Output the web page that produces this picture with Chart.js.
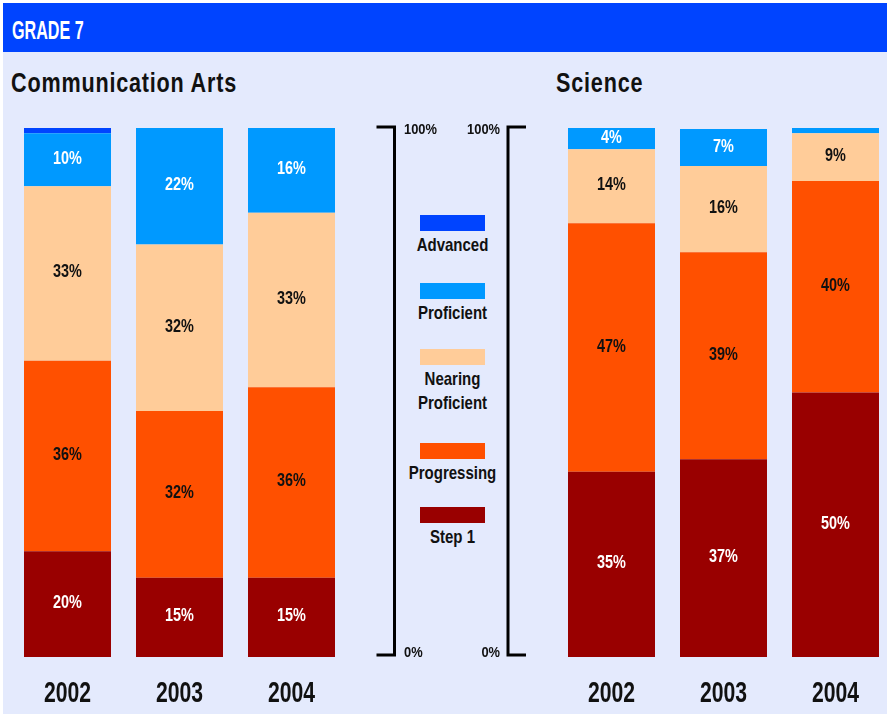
<!DOCTYPE html>
<html>
<head>
<meta charset="utf-8">
<script src="https://cdn.jsdelivr.net/npm/chart.js@4.4.0/dist/chart.umd.min.js"></script>
<style>
  html, body { margin: 0; padding: 0; background: #fff; overflow: hidden; }
  body { width: 890px; height: 717px; position: relative;
         font-family: "Liberation Sans", Arial, sans-serif; font-weight: bold; color: #111; }
  #panel { position: absolute; left: 3px; top: 3px; width: 884px; height: 711px; background: #e4eafd; }
  #header { position: absolute; left: 3px; top: 3px; width: 884px; height: 49px; background: #0044ff; }
  #grade { position: absolute; left: 12px; top: 15px; font-size: 26px; line-height: 30px; color: #fff;
           transform: scaleX(0.62); transform-origin: left top; white-space: nowrap; }
  .title { position: absolute; top: 68px; font-size: 27px; line-height: 30px; letter-spacing: 1px;
           transform: scaleX(0.8); transform-origin: left top; white-space: nowrap; }
  canvas { position: absolute; top: 0; }
  #legend div.sw { position: absolute; left: 420px; width: 65px; height: 16px; }
  #legend div.lb { position: absolute; left: 395px; width: 115px; text-align: center;
                   font-size: 19px; line-height: 24px; transform: scaleX(0.79); transform-origin: center top; }
</style>
</head>
<body>
<div id="panel"></div>
<div id="header"></div>
<div id="grade">GRADE 7</div>
<div class="title" style="left:11px">Communication Arts</div>
<div class="title" style="left:556px">Science</div>
<div id="legend"></div>
<canvas id="comm" width="450" height="717" style="left:0"></canvas>
<canvas id="sci" width="452" height="717" style="left:440px"></canvas>
<script>
// categories and levels
const years = ["2002", "2003", "2004"];
const levels = ["Step 1", "Progressing", "Nearing Proficient", "Proficient", "Advanced"];
const levelColors = ["#990000", "#ff5000", "#ffcc99", "#0099ff", "#0044ff"];
const labelColors = ["#fff", "#111", "#111", "#fff", "#fff"];
const axisTicks = [0, 100];
const axisTickLabels = ["0%", "100%"];

// Communication Arts, % of students
const commStep1 = [20, 15, 15];
const commProgressing = [36, 31.5, 36];
const commNearing = [33, 31.5, 33];
const commProficient = [10, 22, 16];
const commAdvanced = [1, 0, 0];

// Science, % of students
const sciStep1 = [35, 37.4, 50];
const sciProgressing = [47, 39.1, 40];
const sciNearing = [14, 16.3, 9];
const sciProficient = [4, 7, 1];
const sciAdvanced = [0, 0, 0];

const FONT = '"Liberation Sans", Arial, sans-serif';

// legend (top to bottom: Advanced ... Step 1)
const legendTops = [215, 283, 349, 443, 507];
const legend = document.getElementById("legend");
levels.slice().reverse().forEach((name, i) => {
    const sw = document.createElement("div");
    sw.className = "sw";
    sw.style.top = legendTops[i] + "px";
    sw.style.background = levelColors[levels.length - 1 - i];
    const lb = document.createElement("div");
    lb.className = "lb";
    lb.style.top = (legendTops[i] + 18) + "px";
    lb.innerHTML = name === "Nearing Proficient" ? "Nearing<br>Proficient" : name;
    legend.appendChild(sw);
    legend.appendChild(lb);
});

// narrow text: the original uses a condensed face
function narrowText(ctx, text, x, y, sx) {
    ctx.save();
    ctx.translate(x, y);
    ctx.scale(sx, 1);
    ctx.fillText(text, 0, 0);
    ctx.restore();
}

const barLabels = {
    id: "barLabels",
    afterDatasetsDraw(chart) {
        const ctx = chart.ctx;
        ctx.save();
        ctx.font = "bold 19px " + FONT;
        ctx.textAlign = "center";
        ctx.textBaseline = "alphabetic";
        chart.data.datasets.forEach((ds, i) => {
            chart.getDatasetMeta(i).data.forEach((bar, j) => {
                const v = ds.data[j];
                if (v < 3) return;
                ctx.fillStyle = labelColors[i];
                narrowText(ctx, Math.round(v) + "%", bar.x, (bar.y + bar.base) / 2 + 4, 0.76);
            });
        });
        ctx.restore();
    }
};

const yearLabels = {
    id: "yearLabels",
    afterDraw(chart) {
        const x = chart.scales.x, ctx = chart.ctx;
        ctx.save();
        ctx.font = "bold 29px " + FONT;
        ctx.fillStyle = "#111";
        ctx.textAlign = "center";
        ctx.textBaseline = "alphabetic";
        x.getLabels().forEach((lab, i) => {
            narrowText(ctx, lab, x.getPixelForTick(i), chart.chartArea.bottom + 45, 0.73);
        });
        ctx.restore();
    }
};

const bracket = {
    id: "bracket",
    afterDraw(chart, args, opts) {
        const y = chart.scales.y, ctx = chart.ctx;
        const top = y.getPixelForValue(axisTicks[1]) - 1;
        const bot = y.getPixelForValue(axisTicks[0]) - 2;
        ctx.save();
        ctx.strokeStyle = "#000";
        ctx.lineWidth = 3;
        ctx.beginPath();
        ctx.moveTo(opts.x + opts.dir * 18, top);
        ctx.lineTo(opts.x, top);
        ctx.lineTo(opts.x, bot);
        ctx.lineTo(opts.x + opts.dir * 18, bot);
        ctx.stroke();
        ctx.fillStyle = "#111";
        ctx.font = "bold 14px " + FONT;
        ctx.textAlign = opts.align;
        ctx.textBaseline = "alphabetic";
        narrowText(ctx, axisTickLabels[1], opts.labelX, top + 7, 0.92);
        narrowText(ctx, axisTickLabels[0], opts.labelX, bot + 2, 0.92);
        ctx.restore();
    }
};

function makeChart(id, series, padding, bracketOpts) {
    return new Chart(document.getElementById(id), {
        type: "bar",
        data: {
            labels: years,
            datasets: series.map((d, i) => ({
                label: levels[i],
                data: d,
                backgroundColor: levelColors[i],
                borderWidth: 0,
                barPercentage: 1,
                categoryPercentage: 87 / 112
            }))
        },
        options: {
            responsive: false,
            animation: false,
            layout: { padding: padding },
            plugins: { legend: { display: false }, tooltip: { enabled: false }, bracket: bracketOpts },
            scales: {
                x: { stacked: true, display: false },
                y: { stacked: true, display: false, min: 0, max: 100 }
            }
        },
        plugins: [barLabels, yearLabels, bracket]
    });
}

makeChart("comm",
    [commStep1, commProgressing, commNearing, commProficient, commAdvanced],
    { top: 128, bottom: 60, left: 11.5, right: 102.5 },
    { x: 394.5, dir: -1, labelX: 404, align: "left" });

makeChart("sci",
    [sciStep1, sciProgressing, sciNearing, sciProficient, sciAdvanced],
    { top: 128, bottom: 60, left: 115.5, right: 0.5 },
    { x: 68, dir: 1, labelX: 60, align: "right" });
</script>
</body>
</html>
